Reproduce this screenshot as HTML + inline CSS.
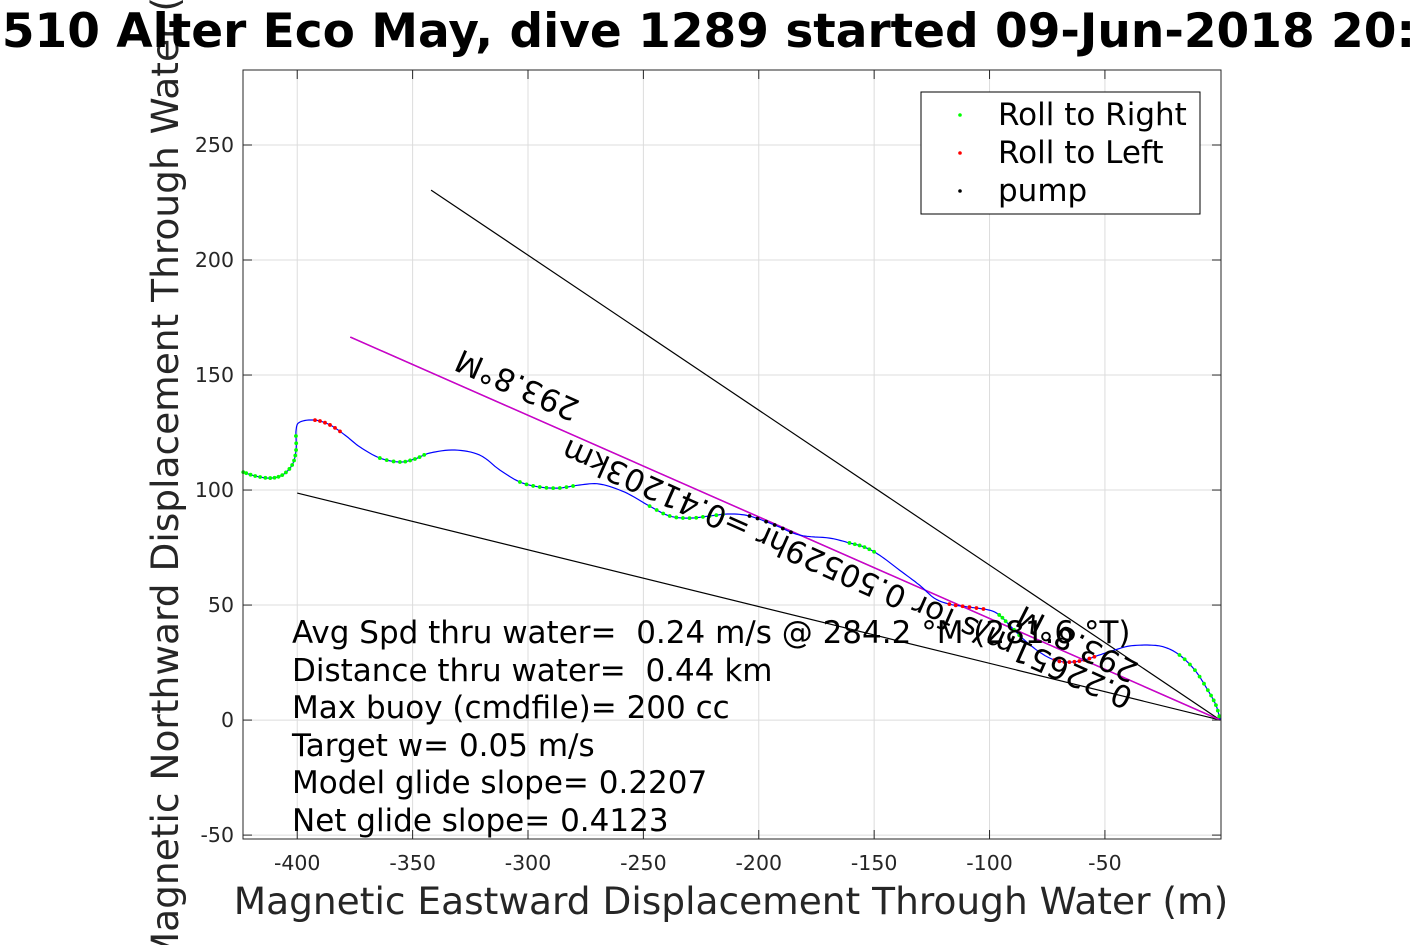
<!DOCTYPE html>
<html><head><meta charset="utf-8">
<style>
html,body{margin:0;padding:0;background:#fff;width:1417px;height:945px;overflow:hidden;font-family:"DejaVu Sans","Liberation Sans",sans-serif;}
text{white-space:pre;}
</style></head>
<body>
<svg id="chart" width="1417" height="945" xmlns="http://www.w3.org/2000/svg" font-family="DejaVu Sans, Liberation Sans, sans-serif">
<g id="grid"></g>
<g id="plot"></g>
<g id="axes"></g>
<text x="731" y="914" text-anchor="middle" font-size="37.5" fill="#262626">Magnetic Eastward Displacement Through Water (m)</text>
<text transform="translate(178,455) rotate(-90)" text-anchor="middle" font-size="37.5" fill="#262626">Magnetic Northward Displacement Through Water (m)</text>
<g font-size="31" xml:space="preserve">
<text x="292" y="643">Avg Spd thru water=  0.24 m/s @ 284.2 °M (281.6 °T)</text>
<text x="292" y="681">Distance thru water=  0.44 km</text>
<text x="292" y="718">Max buoy (cmdfile)= 200 cc</text>
<text x="292" y="756">Target w= 0.05 m/s</text>
<text x="292" y="793">Model glide slope= 0.2207</text>
<text x="292" y="831">Net glide slope= 0.4123</text>
</g>
<text transform="translate(518,383) rotate(203.8)" text-anchor="middle" dominant-baseline="middle" font-size="31">293.8°M</text>
<text transform="translate(848,572) rotate(203.9)" text-anchor="middle" dominant-baseline="middle" font-size="31">0.22651m/s for 0.50529hr =0.41203km</text>
<text transform="translate(1078,642) rotate(207)" text-anchor="middle" dominant-baseline="middle" font-size="31">293.8°M</text>
<g>
<rect x="921" y="92" width="279" height="122" fill="#fff" stroke="#000" stroke-width="1"/>
<circle cx="960" cy="115" r="1.8" fill="#0f0"/><text x="998" y="125" font-size="31">Roll to Right</text>
<circle cx="960" cy="153" r="1.8" fill="#f00"/><text x="998" y="163" font-size="31">Roll to Left</text>
<circle cx="960" cy="191" r="1.8" fill="#000"/><text x="998" y="201" font-size="31">pump</text>
</g>
<text x="705" y="47" text-anchor="middle" font-size="47" font-weight="bold">SG510 Alter Eco May, dive 1289 started 09-Jun-2018 20:16</text>
</svg>
<script>
const xTicks=[-400,-350,-300,-250,-200,-150,-100,-50];
const yTicks=[-50,0,50,100,150,200,250];
const trackX=[-423.4,-418.2,-411.7,-406.5,-402.2,-400.5,-400.5,-398.8,-392.3,-385.8,-379.3,-372.8,-364.2,-355.5,-349.0,-342.5,-331.7,-320.9,-312.2,-303.5,-294.9,-286.2,-277.6,-268.9,-258.1,-247.3,-238.6,-230.0,-221.3,-212.6,-204.0,-193.1,-182.3,-169.3,-160.7,-154.2,-147.7,-139.0,-130.4,-123.9,-117.4,-108.7,-100.1,-95.8,-91.4,-84.9,-78.4,-71.9,-65.4,-58.9,-52.4,-45.9,-39.4,-30.7,-24.2,-17.7,-11.0,-5.4,-1.9,0];
const trackY=[107.8,106.1,105.2,106.5,110.9,117.4,126.1,129.6,130.4,128.3,123.9,118.7,113.9,112.2,113.5,116.1,117.4,115.2,108.7,103.5,101.3,100.9,102.2,102.6,99.1,93.0,88.7,87.8,88.7,89.6,88.7,84.8,80.4,79.1,77.0,75.2,71.7,65.2,58.7,53.0,50.4,49.1,47.8,45.7,41.3,34.8,29.6,26.1,25.2,26.1,28.3,30.4,32.2,32.6,31.7,28.3,21.7,13.0,6.5,0];
const dotRuns=[[0,6,'#0f0'],[8,10,'#f00'],[12,15,'#0f0'],[19,22,'#0f0'],[25,29,'#0f0'],[30,32,'#000'],[34,36,'#0f0'],[40,42,'#f00'],[43,45,'#0f0'],[47,50,'#f00'],[55,59,'#0f0']];
const lineStartX=[-400,-342,-377,-377];
const lineStartY=[98.7,230.4,166.5,166.5];
const lineColors=['#000','#000','#000','#c0c'];
const X0=243,X1=1221,Y0=70,Y1=839,xmin=-423.5,xmax=0.3,ymin=-51.7,ymax=282.6;
const sx=v=>X0+(v-xmin)/(xmax-xmin)*(X1-X0);
const sy=v=>Y1-(v-ymin)/(ymax-ymin)*(Y1-Y0);
const NS='http://www.w3.org/2000/svg';
function mk(t,a,p){const e=document.createElementNS(NS,t);for(const k in a)e.setAttribute(k,a[k]);p.appendChild(e);return e;}
const grid=document.getElementById('grid'),plot=document.getElementById('plot'),axes=document.getElementById('axes');
mk('rect',{x:X0,y:Y0,width:X1-X0,height:Y1-Y0,fill:'#fff'},grid);
xTicks.forEach(v=>{const l=mk('line',{x1:sx(v),x2:sx(v),y1:Y0,y2:Y1,stroke:'#dcdcdc','stroke-width':1},grid);


mk('line',{x1:sx(v),x2:sx(v),y1:Y1,y2:Y1-9,stroke:'#262626'},axes);mk('line',{x1:sx(v),x2:sx(v),y1:Y0,y2:Y0+9,stroke:'#262626'},axes);
const t=mk('text',{x:sx(v),y:Y1+31,'text-anchor':'middle','font-size':20.5,fill:'#262626'},axes);t.textContent=v;

});
yTicks.forEach(v=>{const l=mk('line',{x1:X0,x2:X1,y1:sy(v),y2:sy(v),stroke:'#dcdcdc','stroke-width':1},grid);


mk('line',{x1:X0,x2:X0+9,y1:sy(v),y2:sy(v),stroke:'#262626'},axes);mk('line',{x1:X1,x2:X1-9,y1:sy(v),y2:sy(v),stroke:'#262626'},axes);
const t=mk('text',{x:X0-9,y:sy(v)+7,'text-anchor':'end','font-size':20.5,fill:'#262626'},axes);t.textContent=v;

});
mk('rect',{x:X0,y:Y0,width:X1-X0,height:Y1-Y0,fill:'none',stroke:'#262626','stroke-width':1},axes);
lineStartX.forEach((x,i)=>{const l=mk('line',{x1:sx(x),y1:sy(lineStartY[i]),x2:sx(0),y2:sy(0),stroke:lineColors[i],'stroke-width':i==3?1.5:1.2},plot);

});
const P=trackX.map((x,i)=>[sx(x),sy(trackY[i])]);
function seg(i,t){const p0=P[Math.max(i-1,0)],p1=P[i],p2=P[i+1],p3=P[Math.min(i+2,P.length-1)];
const t2=t*t,t3=t2*t;const f=(a,b,c,d)=>0.5*(2*b+(-a+c)*t+(2*a-5*b+4*c-d)*t2+(-a+3*b-3*c+d)*t3);
return [f(p0[0],p1[0],p2[0],p3[0]),f(p0[1],p1[1],p2[1],p3[1])];}
let d='M'+P[0][0]+','+P[0][1];
for(let i=0;i<P.length-1;i++){for(let k=1;k<=8;k++){const q=seg(i,k/8);d+='L'+q[0].toFixed(1)+','+q[1].toFixed(1);}}
const tr=mk('path',{d:d,fill:'none',stroke:'#00f','stroke-width':1.2,'stroke-linejoin':'round'},plot);


dotRuns.forEach(r=>{for(let i=r[0];i<r[1];i++){for(let k=0;k<3;k++){const q=seg(i,k/3);
const c=mk('circle',{cx:q[0],cy:q[1],r:1.9,fill:r[2]},plot);

}}});
</script>
</body></html>
